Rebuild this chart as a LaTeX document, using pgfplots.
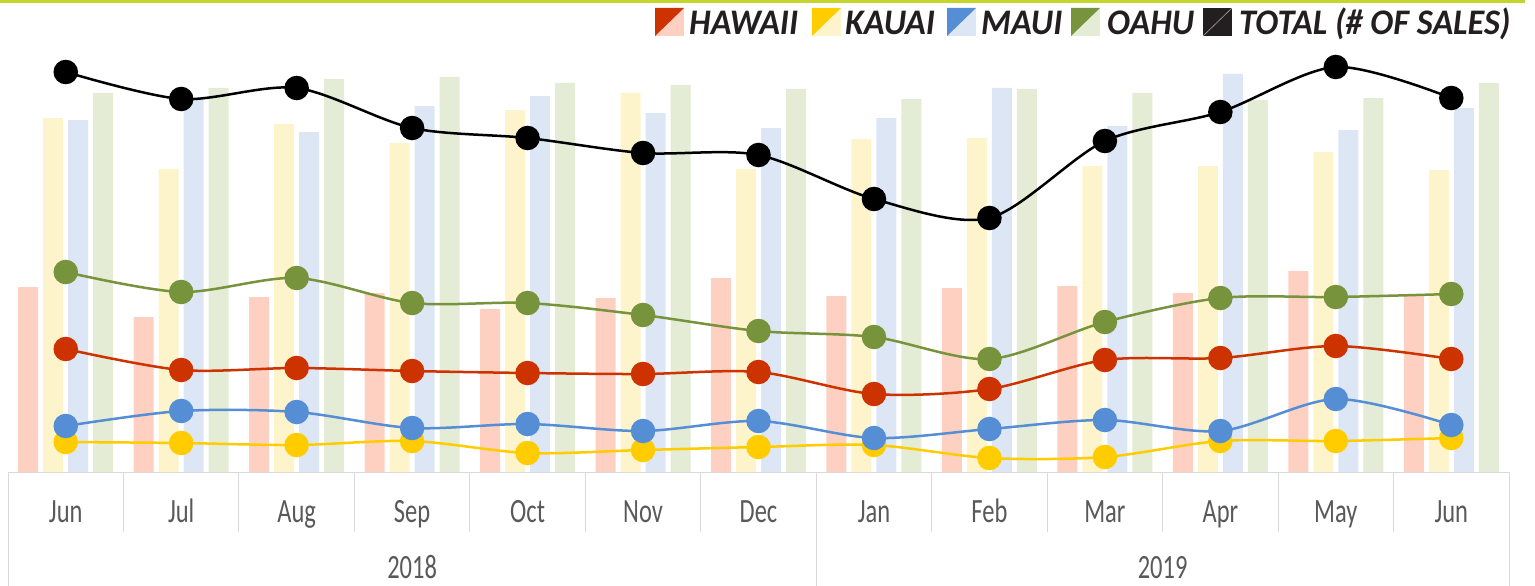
\documentclass[border=0pt]{standalone}
\usepackage{pgfplots}
\pgfplotsset{compat=1.18}
\usepackage{fontspec}
\setmainfont{Carlito}
\newfontfamily\tickfont[FakeStretch=0.72]{Carlito}
\newfontfamily\legfont[FakeStretch=0.95]{Carlito}
\definecolor{hawL}{HTML}{CC3300}
\definecolor{hawB}{HTML}{FDD0C2}
\definecolor{kauL}{HTML}{FFCC00}
\definecolor{kauB}{HTML}{FEF4CC}
\definecolor{mauL}{HTML}{558ED5}
\definecolor{mauB}{HTML}{DCE6F4}
\definecolor{oahL}{HTML}{77933C}
\definecolor{oahB}{HTML}{E4ECD6}
\definecolor{totL}{HTML}{000000}
\definecolor{totI}{HTML}{231F20}
\definecolor{axgrey}{HTML}{D9D9D9}
\definecolor{txtgrey}{HTML}{595959}
\definecolor{topline}{HTML}{C4D62E}

% heights above baseline (chart units)
\pgfplotstableread{
x haw kau mau oah
0 185 354 352 379
1 155 303 373 384
2 175 348 340 393
3 179 329 366 395
4 163 362 376 389
5 174 379 359 387
6 194 303 344 383
7 176 333 354 373
8 184 334 384 383
9 186 306 346 379
10 179 306 398 372
11 201 320 342 374
12 177 302 364 389
}\bars
\pgfplotstableread{
x haw kau mau oah tot
0 123 30 46 200 400
1 102 29 61 180 373
2 104 27 60 194 384
3 101 31 44 169 344
4 99 19 48 169 334
5 98 22 41 157 319
6 100 25 51 141 317
7 78 27 34 135 273
8 83 14 43 113 254
9 112 15 52 150 331
10 114 31 41 174 360
11 126 31 73 175 405
12 113 34 47 178 374
}\lines

\begin{document}
\begin{tikzpicture}[x=1bp,y=1bp]
\useasboundingbox (0,0) rectangle (1535,-586);
\fill[topline] (0,0) rectangle (1525,-3);
\begin{axis}[
  at={(8bp,-472bp)}, anchor=south west,
  scale only axis, width=1501bp, height=422bp,
  xmin=-0.5, xmax=12.5, ymin=0, ymax=422,
  clip=false,
  axis x line*=bottom, axis y line=none,
  x axis line style={draw=axgrey, line width=1bp, -},
  xtick={0,...,12},
  xticklabels={Jun,Jul,Aug,Sep,Oct,Nov,Dec,Jan,Feb,Mar,Apr,May,Jun},
  major tick length=0pt,
  xticklabel style={anchor=base, yshift=-50bp, font=\tickfont\fontsize{34bp}{38bp}\selectfont, text=txtgrey},
  extra x ticks={-0.5,0.5,...,12.5},
  extra x tick labels={},
  extra x tick style={major tick length=60bp, tick align=outside, tick style={draw=axgrey, line width=1bp}},
]
\addplot[ybar, bar width=20bp, bar shift=-37.5bp, fill=hawB, draw=none] table[x=x,y=haw]{\bars};
\addplot[ybar, bar width=20bp, bar shift=-12.5bp, fill=kauB, draw=none] table[x=x,y=kau]{\bars};
\addplot[ybar, bar width=20bp, bar shift=12.5bp, fill=mauB, draw=none] table[x=x,y=mau]{\bars};
\addplot[ybar, bar width=20bp, bar shift=37.5bp, fill=oahB, draw=none] table[x=x,y=oah]{\bars};

\addplot[smooth, hawL, line width=2.5bp, mark=*, mark size=11bp, mark options={fill=hawL, draw=none}] table[x=x,y=haw]{\lines};
\addplot[smooth, kauL, line width=2.5bp, mark=*, mark size=11bp, mark options={fill=kauL, draw=none}] table[x=x,y=kau]{\lines};
\addplot[smooth, mauL, line width=2.5bp, mark=*, mark size=11bp, mark options={fill=mauL, draw=none}] table[x=x,y=mau]{\lines};
\addplot[smooth, oahL, line width=2.5bp, mark=*, mark size=11bp, mark options={fill=oahL, draw=none}] table[x=x,y=oah]{\lines};
\addplot[smooth, totL, line width=2.5bp, mark=*, mark size=11bp, mark options={fill=totL, draw=none}] table[x=x,y=tot]{\lines};

\draw[axgrey, line width=1bp] (axis cs:-0.5,0) -- (axis cs:-0.5,-114);
\draw[axgrey, line width=1bp] (axis cs:6.5,0) -- (axis cs:6.5,-114);
\draw[axgrey, line width=1bp] (axis cs:12.5,0) -- (axis cs:12.5,-114);
\node[anchor=base, text=txtgrey, font=\tickfont\fontsize{34bp}{38bp}\selectfont] at (axis cs:3,-106) {2018};
\node[anchor=base, text=txtgrey, font=\tickfont\fontsize{34bp}{38bp}\selectfont] at (axis cs:9.5,-106) {2019};
\end{axis}

% legend
\newcommand{\legicon}[3]{%
  \fill[#3] (#1,-8) -- (#1+29,-8) -- (#1+29,-36) -- (#1,-36) -- cycle;
  \fill[#2] (#1,-8) -- (#1+29,-8) -- (#1,-36) -- cycle;}
\legicon{655}{hawL}{hawB}
\legicon{812}{kauL}{kauB}
\legicon{947}{mauL}{mauB}
\legicon{1071}{oahL}{oahB}
\fill[totI] (1203,-8) rectangle (1232,-36);
\draw[white!60!totI, line width=0.6bp] (1203,-36) -- (1232,-8);
\begin{scope}[every node/.style={anchor=base west, inner sep=0pt, text=totI, font=\legfont\bfseries\itshape\fontsize{36bp}{40bp}\selectfont}]
\node at (689,-35) {HAWAII};
\node at (845,-35) {KAUAI};
\node at (981,-35) {MAUI};
\node at (1107,-35) {OAHU};
\node at (1239,-35) {TOTAL (\# OF SALES)};
\end{scope}
\end{tikzpicture}
\end{document}
